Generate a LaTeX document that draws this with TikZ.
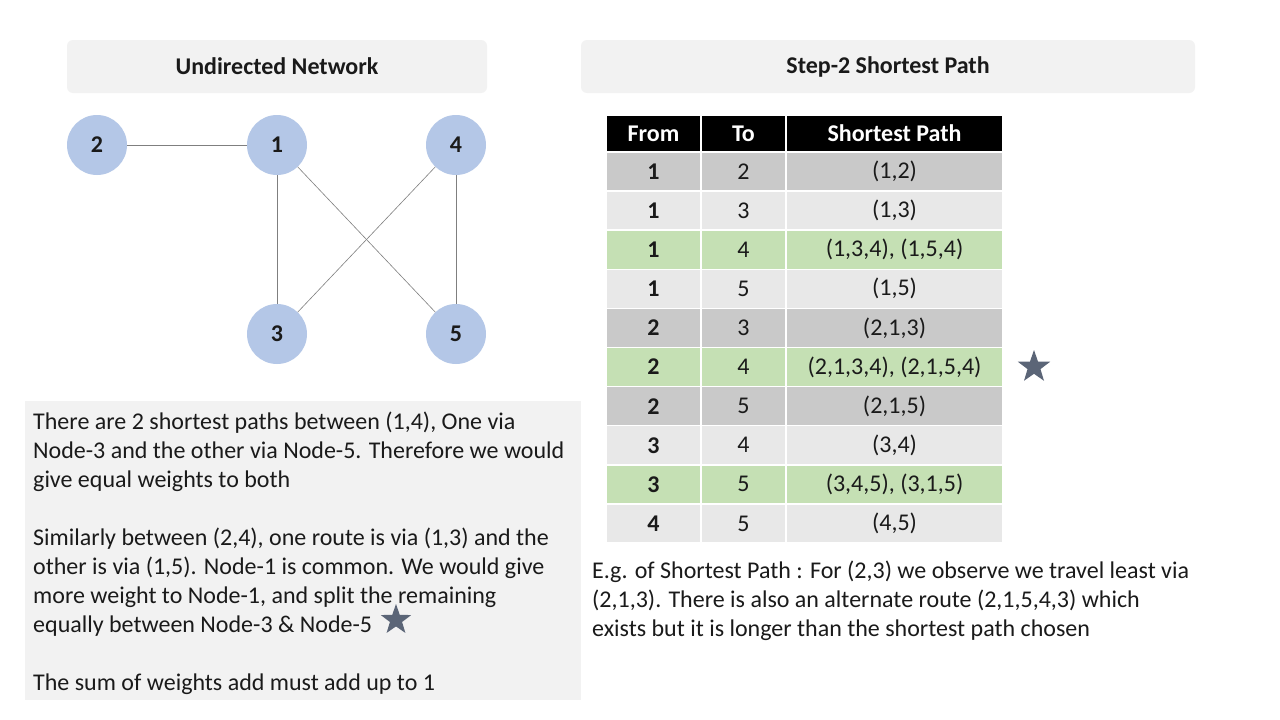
\documentclass[tikz,border=0pt]{standalone}
\usepackage{fontspec}
\setmainfont{Carlito}
\usetikzlibrary{shapes.geometric}
\definecolor{titlebg}{HTML}{F2F2F2}
\definecolor{nodeblue}{HTML}{B4C7E7}
\definecolor{rowdark}{HTML}{C9C9C9}
\definecolor{rowlight}{HTML}{E8E8E8}
\definecolor{rowgreen}{HTML}{C5E0B4}
\definecolor{starcol}{HTML}{5B6577}
\definecolor{edgecol}{HTML}{7F7F7F}
\definecolor{txt}{HTML}{1A1A1A}
\begin{document}
\begin{tikzpicture}[x=1pt,y=-1pt,
  titlebox/.style={fill=titlebg, rounded corners=6pt, inner sep=0pt},
  titletext/.style={font=\fontsize{24}{28}\selectfont\bfseries, text=txt},
  netnode/.style={circle, fill=nodeblue, minimum size=60pt, inner sep=0pt, font=\fontsize{24}{28}\selectfont\bfseries, text=txt},
  edge/.style={draw=edgecol, line width=0.6pt},
  cell/.style={draw=white, line width=1.5pt, minimum height=39.1pt, inner sep=0pt, font=\fontsize{24}{28}\selectfont, text=txt},
  hcell/.style={cell, fill=black, text=white, font=\fontsize{24}{28}\selectfont\bfseries, minimum height=37pt},
  bodytext/.style={align=left, inner sep=0pt, anchor=north west, font=\fontsize{24}{29}\selectfont, text=txt},
  mystar/.style={star, star points=5, star point ratio=2.5, fill=starcol, minimum size=34pt, inner sep=0pt}
]
\useasboundingbox[fill=white] (0,0) rectangle (1280,720);

% title boxes
\node[titlebox, minimum width=420pt, minimum height=53pt] (t1) at (277,66.5) {};
\node[titletext] (t1txt) at (t1) {Undirected Network};
\node[titlebox, minimum width=614pt, minimum height=53pt] (t2) at (888,66.5) {};
\node[titletext] (t2txt) at (t2) {Step-2 Shortest Path};

% network
\node[netnode] (n2) at (97,145) {2};
\node[netnode] (n1) at (277,145) {1};
\node[netnode] (n4) at (456,145) {4};
\node[netnode] (n3) at (277,334) {3};
\node[netnode] (n5) at (456,334) {5};
\draw[edge] (n2) -- (n1);
\draw[edge] (n1) -- (n3);
\draw[edge] (n1) -- (n5);
\draw[edge] (n4) -- (n3);
\draw[edge] (n4) -- (n5);

% table header
\node[hcell, minimum width=95pt] (h1) at (653.5,133.5) {From};
\node[hcell, minimum width=85pt] (h2) at (743.5,133.5) {To};
\node[hcell, minimum width=217pt] (h3) at (894.5,133.5) {Shortest Path};

% table rows
\foreach \i/\f/\t/\p/\c in {
  1/1/2/{(1,2)}/rowdark,
  2/1/3/{(1,3)}/rowlight,
  3/1/4/{(1,3,4), (1,5,4)}/rowgreen,
  4/1/5/{(1,5)}/rowlight,
  5/2/3/{(2,1,3)}/rowdark,
  6/2/4/{(2,1,3,4), (2,1,5,4)}/rowgreen,
  7/2/5/{(2,1,5)}/rowdark,
  8/3/4/{(3,4)}/rowlight,
  9/3/5/{(3,4,5), (3,1,5)}/rowgreen,
  10/4/5/{(4,5)}/rowlight}{
  \pgfmathsetmacro{\yy}{152+(\i-0.5)*39.1}
  \node[cell, fill=\c, minimum width=95pt, font=\fontsize{24}{28}\selectfont\bfseries] (r\i a) at (653.5,\yy) {\f};
  \node[cell, fill=\c, minimum width=85pt] (r\i b) at (743.5,\yy) {\t};
  \node[cell, fill=\c, minimum width=217pt] (r\i c) at (894.5,\yy) {\p};
}

\node[mystar] (s1) at (1034,367) {};

% explanation box
\node[fill=titlebg, minimum width=556pt, minimum height=299pt, inner sep=0pt] (expl) at (303,550.5) {};
\node[bodytext] (etext) at (33,412) {There are 2 shortest paths between (1,4), One via\\
Node-3 and the other via Node-5. Therefore we would\\
give equal weights to both\\[29pt]
Similarly between (2,4), one route is via (1,3) and the\\
other is via (1,5). Node-1 is common. We would give\\
more weight to Node-1, and split the remaining\\
equally between Node-3 \& Node-5\\[29pt]
The sum of weights add must add up to 1};
\node[mystar, minimum size=32pt] (s2) at (396,620) {};

% example text
\node[bodytext] (eg) at (592,561) {E.g. of Shortest Path : For (2,3) we observe we travel least via\\
(2,1,3). There is also an alternate route (2,1,5,4,3) which\\
exists but it is longer than the shortest path chosen};
\end{tikzpicture}
\end{document}
